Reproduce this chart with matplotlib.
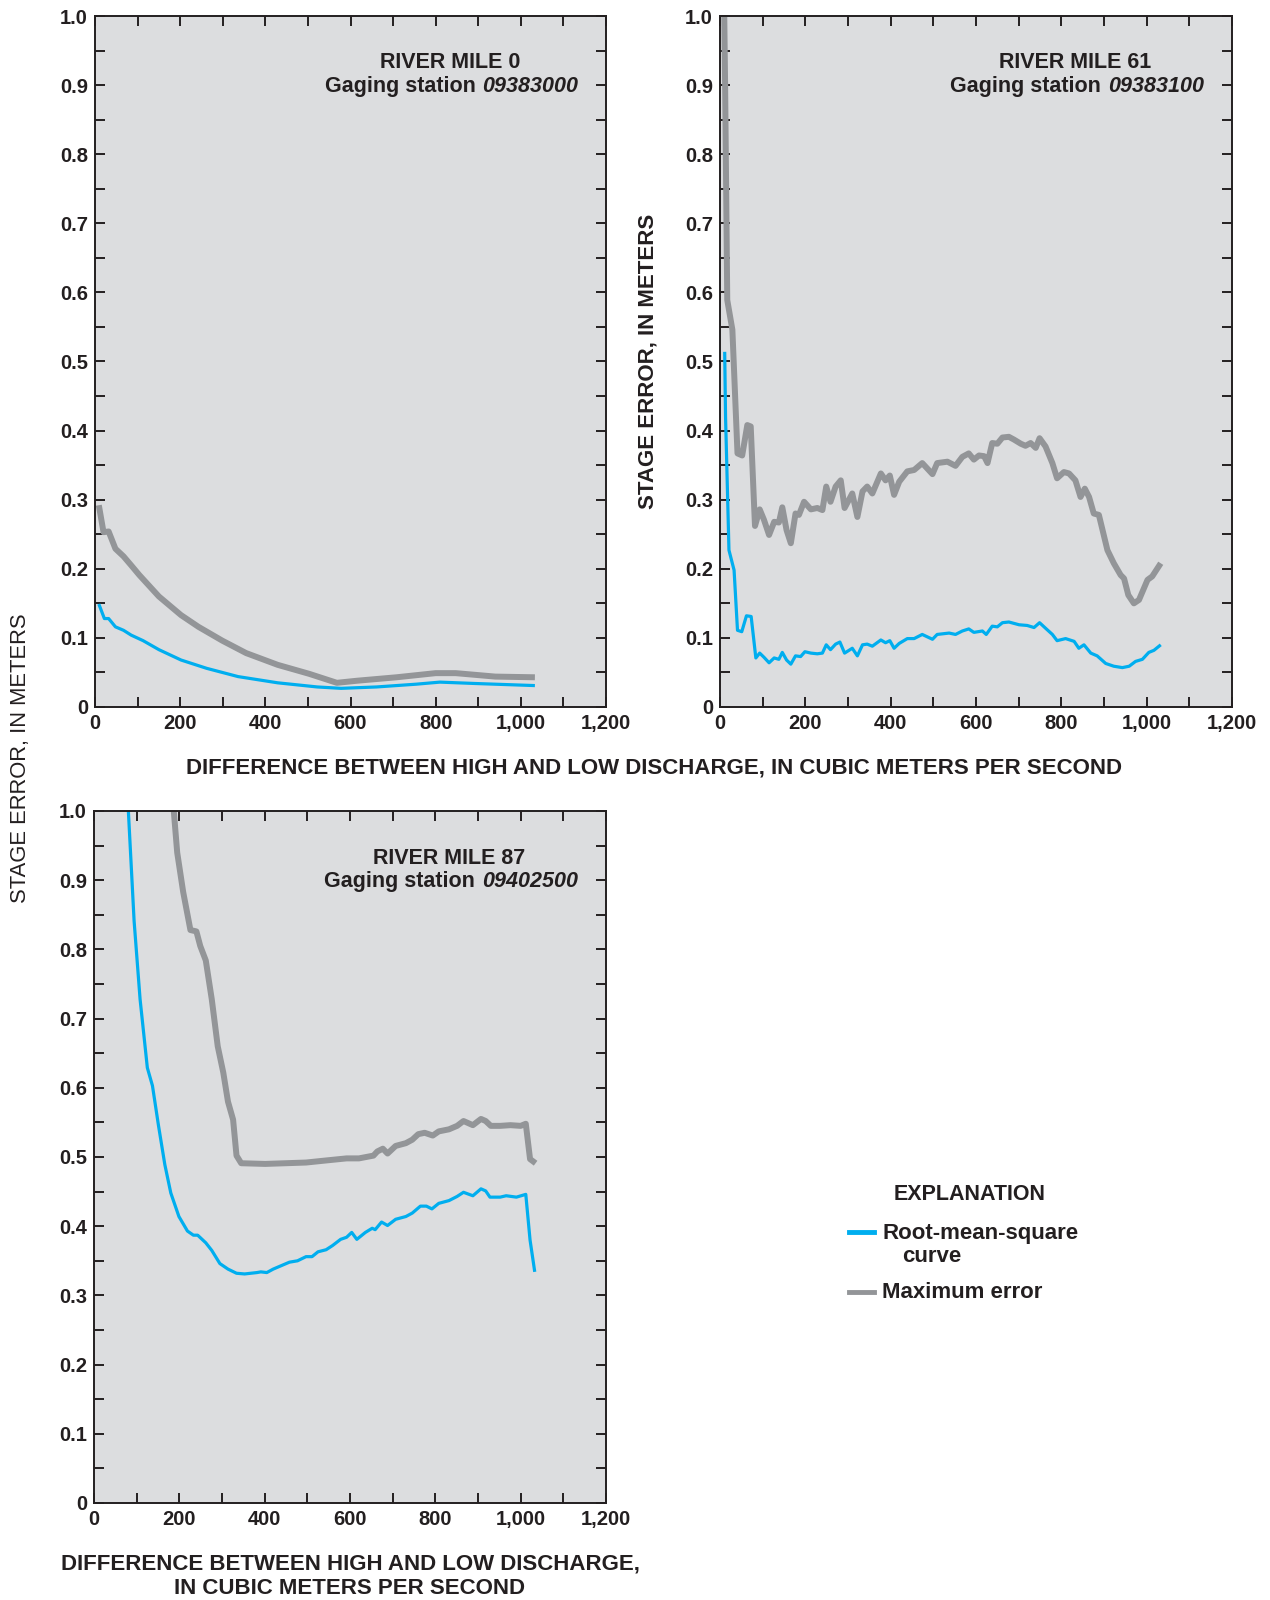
import matplotlib
matplotlib.use('Agg')
from matplotlib import pyplot as plt
from matplotlib.lines import Line2D
from matplotlib.ticker import MultipleLocator, FuncFormatter

# River mile 0, gaging station 09383000
rm0_max_x = [9, 20, 32, 48, 67, 85, 104, 150, 202, 243, 299, 355, 429, 503, 568, 615, 708, 800, 847, 940, 1033]
rm0_max_y = [0.292, 0.253, 0.254, 0.229, 0.218, 0.205, 0.191, 0.160, 0.133, 0.116, 0.096, 0.078, 0.061, 0.048,
             0.035, 0.038, 0.043, 0.049, 0.049, 0.044, 0.043]
rm0_rms_x = [9, 22, 32, 48, 67, 85, 113, 150, 202, 262, 336, 429, 522, 578, 661, 754, 810, 893, 1033]
rm0_rms_y = [0.149, 0.128, 0.128, 0.116, 0.111, 0.104, 0.096, 0.083, 0.068, 0.056, 0.044, 0.035, 0.029, 0.027,
             0.029, 0.033, 0.036, 0.034, 0.031]

# River mile 61, gaging station 09383100
rm61_max_x = [9, 12, 17, 29, 41, 52, 64, 72, 82, 93, 103, 115, 127, 138, 146, 156, 166, 177, 185, 197, 213, 228,
              240, 249, 259, 271, 283, 292, 310, 322, 334, 345, 357, 377, 388, 398, 408, 420, 439, 455, 474, 486,
              498, 509, 533, 552, 568, 583, 595, 607, 619, 627, 638, 650, 662, 677, 689, 705, 716, 728, 740, 749,
              763, 779, 790, 806, 818, 833, 845, 855, 865, 876, 888, 908, 923, 939, 947, 957, 970, 982, 1002, 1013,
              1033]
rm61_max_y = [1.05, 0.90, 0.589, 0.546, 0.367, 0.364, 0.408, 0.406, 0.262, 0.286, 0.271, 0.249, 0.268, 0.267,
              0.289, 0.256, 0.237, 0.280, 0.278, 0.297, 0.286, 0.288, 0.285, 0.319, 0.297, 0.319, 0.328, 0.288,
              0.309, 0.275, 0.312, 0.319, 0.309, 0.338, 0.328, 0.335, 0.307, 0.326, 0.341, 0.343, 0.353, 0.345,
              0.337, 0.353, 0.355, 0.349, 0.362, 0.367, 0.358, 0.364, 0.363, 0.353, 0.382, 0.381, 0.390, 0.391,
              0.387, 0.381, 0.378, 0.382, 0.375, 0.389, 0.377, 0.353, 0.331, 0.340, 0.338, 0.328, 0.304, 0.316,
              0.304, 0.280, 0.278, 0.227, 0.208, 0.191, 0.186, 0.162, 0.150, 0.155, 0.184, 0.189, 0.208]
rm61_rms_x = [11, 13, 21, 33, 41, 51, 62, 73, 84, 93, 103, 115, 127, 138, 146, 156, 166, 177, 189, 199, 213, 228,
              240, 249, 259, 271, 281, 292, 310, 322, 334, 345, 357, 377, 388, 398, 408, 420, 439, 455, 474, 498,
              509, 537, 552, 568, 583, 595, 615, 624, 638, 650, 662, 677, 701, 720, 736, 749, 763, 779, 790, 810,
              830, 841, 853, 869, 884, 904, 923, 943, 959, 974, 990, 1005, 1017, 1033]
rm61_rms_y = [0.514, 0.420, 0.227, 0.198, 0.111, 0.109, 0.132, 0.131, 0.071, 0.078, 0.072, 0.064, 0.071, 0.069,
              0.079, 0.068, 0.062, 0.074, 0.073, 0.080, 0.078, 0.077, 0.078, 0.090, 0.083, 0.091, 0.094, 0.078,
              0.085, 0.074, 0.090, 0.091, 0.088, 0.097, 0.093, 0.096, 0.085, 0.092, 0.099, 0.099, 0.105, 0.098,
              0.105, 0.107, 0.105, 0.110, 0.113, 0.108, 0.110, 0.105, 0.117, 0.116, 0.122, 0.123, 0.119, 0.118,
              0.115, 0.122, 0.114, 0.105, 0.096, 0.099, 0.095, 0.085, 0.090, 0.078, 0.074, 0.063, 0.059, 0.057,
              0.059, 0.066, 0.069, 0.079, 0.082, 0.090]

# River mile 87, gaging station 09402500
rm87_max_x = [183, 195, 209, 226, 240, 249, 262, 276, 290, 303, 314, 326, 334, 345, 401, 497, 544, 592, 621, 655,
              664, 677, 688, 707, 731, 746, 760, 775, 794, 808, 832, 851, 866, 888, 907, 918, 930, 952, 976, 1000,
              1012, 1022, 1035]
rm87_max_y = [1.03, 0.940, 0.883, 0.828, 0.826, 0.805, 0.784, 0.728, 0.660, 0.622, 0.580, 0.554, 0.502, 0.491,
              0.490, 0.492, 0.495, 0.498, 0.498, 0.502, 0.508, 0.512, 0.505, 0.516, 0.520, 0.525, 0.533, 0.535,
              0.531, 0.537, 0.540, 0.545, 0.552, 0.546, 0.555, 0.552, 0.545, 0.545, 0.546, 0.545, 0.548, 0.497,
              0.491]
rm87_rms_x = [78, 94, 108, 125, 137, 151, 166, 180, 199, 219, 233, 243, 262, 276, 295, 314, 334, 353, 382, 391,
              405, 420, 439, 458, 477, 497, 511, 525, 544, 559, 578, 592, 604, 616, 636, 652, 659, 674, 688, 707,
              731, 746, 765, 779, 792, 808, 832, 851, 866, 888, 907, 918, 928, 952, 966, 990, 1012, 1022, 1033]
rm87_rms_y = [1.03, 0.841, 0.728, 0.629, 0.603, 0.546, 0.489, 0.448, 0.414, 0.393, 0.387, 0.387, 0.376, 0.365,
              0.346, 0.338, 0.332, 0.331, 0.333, 0.334, 0.333, 0.338, 0.343, 0.348, 0.350, 0.356, 0.356, 0.363,
              0.366, 0.372, 0.381, 0.384, 0.391, 0.381, 0.391, 0.397, 0.395, 0.406, 0.401, 0.410, 0.414, 0.419,
              0.429, 0.429, 0.425, 0.433, 0.437, 0.443, 0.449, 0.444, 0.454, 0.451, 0.442, 0.442, 0.444, 0.442,
              0.446, 0.380, 0.334]

panels = [
    ('RIVER MILE 0', '09383000', rm0_rms_x, rm0_rms_y, rm0_max_x, rm0_max_y),
    ('RIVER MILE 61', '09383100', rm61_rms_x, rm61_rms_y, rm61_max_x, rm61_max_y),
    ('RIVER MILE 87', '09402500', rm87_rms_x, rm87_rms_y, rm87_max_x, rm87_max_y),
]

BLUE = '#00AEEF'
GRAY = '#939598'
BG = '#DCDDDF'
INK = '#231F20'

plt.rcParams['font.family'] = ['Liberation Sans', 'DejaVu Sans']
plt.rcParams['font.weight'] = 'bold'

fig = plt.figure(figsize=(12.7, 16), dpi=100)
boxes = [
    [95 / 1270, 1 - 707 / 1600, 511 / 1270, 691 / 1600],
    [720 / 1270, 1 - 707 / 1600, 512 / 1270, 691 / 1600],
    [94 / 1270, 1 - 1503 / 1600, 512 / 1270, 692 / 1600],
]


def fmt_y(v, pos):
    return '0' if abs(v) < 1e-9 else '%.1f' % v


def fmt_x(v, pos):
    return '{:,}'.format(int(round(v)))


TSIZE = 15.5   # panel titles
LSIZE = 16     # axis titles / explanation

for box, (title, station, rx, ry, mx, my) in zip(boxes, panels):
    ax = fig.add_axes(box)
    ax.set_facecolor(BG)
    ax.plot(mx, my, color=GRAY, lw=4.3, solid_joinstyle='round', solid_capstyle='butt')
    ax.plot(rx, ry, color=BLUE, lw=2.3, solid_joinstyle='round', solid_capstyle='butt')
    ax.set_xlim(0, 1200)
    ax.set_ylim(0, 1)
    ax.xaxis.set_major_locator(MultipleLocator(200))
    ax.xaxis.set_minor_locator(MultipleLocator(100))
    ax.yaxis.set_major_locator(MultipleLocator(0.1))
    ax.yaxis.set_minor_locator(MultipleLocator(0.05))
    ax.xaxis.set_major_formatter(FuncFormatter(fmt_x))
    ax.yaxis.set_major_formatter(FuncFormatter(fmt_y))
    ax.tick_params(which='both', direction='in', top=True, right=True, length=7, width=1.4, color=INK)
    ax.tick_params(which='major', labelsize=14.5, labelcolor=INK, pad=5)
    for lab in ax.get_xticklabels() + ax.get_yticklabels():
        lab.set_fontweight('bold')
    for sp in ax.spines.values():
        sp.set_linewidth(1.4)
        sp.set_color(INK)

    ax.text(833, 0.932, title, ha='center', va='center', fontsize=TSIZE, fontweight='bold', color=INK)
    num = ax.text(1135, 0.883, station, ha='right', va='bottom', fontsize=TSIZE,
                  fontweight='bold', fontstyle='italic', color=INK)
    ax.annotate('Gaging station', xy=(0, 0), xycoords=num, xytext=(-5, 0), textcoords='offset points',
                ha='right', va='bottom', fontsize=TSIZE, fontweight='bold', color=INK)

# axis titles
fig.text(648 / 1270, 1 - 361 / 1600, 'STAGE ERROR, IN METERS', rotation=90, ha='center', va='center',
         fontsize=LSIZE, fontweight='bold', color=INK)
fig.text(21 / 1270, 1 - 758 / 1600, 'STAGE ERROR, IN METERS', rotation=90, ha='center', va='center',
         fontsize=15.8, fontweight='normal', color=INK)
fig.text(654 / 1270, 1 - 768 / 1600,
         'DIFFERENCE BETWEEN HIGH AND LOW DISCHARGE, IN CUBIC METERS PER SECOND',
         ha='center', va='center', fontsize=LSIZE, fontweight='bold', color=INK)
fig.text(350 / 1270, 1 - 1564 / 1600, 'DIFFERENCE BETWEEN HIGH AND LOW DISCHARGE,',
         ha='center', va='center', fontsize=LSIZE, fontweight='bold', color=INK)
fig.text(350 / 1270, 1 - 1588 / 1600, 'IN CUBIC METERS PER SECOND',
         ha='center', va='center', fontsize=LSIZE, fontweight='bold', color=INK)

# explanation
fig.text(970 / 1270, 1 - 1194 / 1600, 'EXPLANATION', ha='center', va='center',
         fontsize=15.5, fontweight='bold', color=INK)
fig.add_artist(Line2D([849 / 1270, 874 / 1270], [1 - 1232 / 1600] * 2, color=BLUE, lw=3.5,
                      transform=fig.transFigure))
fig.text(882 / 1270, 1 - 1233 / 1600, 'Root-mean-square', ha='left', va='center',
         fontsize=LSIZE, fontweight='bold', color=INK)
fig.text(902 / 1270, 1 - 1256 / 1600, 'curve', ha='left', va='center',
         fontsize=LSIZE, fontweight='bold', color=INK)
fig.add_artist(Line2D([849 / 1270, 874 / 1270], [1 - 1292 / 1600] * 2, color=GRAY, lw=3.5,
                      transform=fig.transFigure))
fig.text(882 / 1270, 1 - 1293 / 1600, 'Maximum error', ha='left', va='center',
         fontsize=LSIZE, fontweight='bold', color=INK)

fig.savefig('out.png', dpi=100)
